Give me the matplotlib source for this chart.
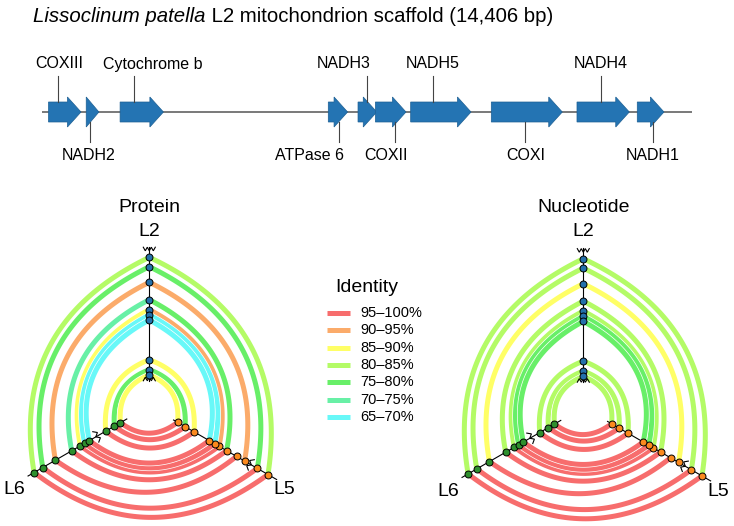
import numpy as np
import matplotlib.pyplot as plt
from matplotlib.patches import Polygon

plt.rcParams['font.family'] = ['Liberation Sans', 'DejaVu Sans']

W, H, DPI = 734, 526, 100

# ---- gene map data (bp on the L2 scaffold) ----
SCAFFOLD_LEN = 14406
GENE_NAMES = ['COXIII', 'NADH2', 'Cytochrome b', 'ATPase 6', 'NADH3',
              'COXII', 'NADH5', 'COXI', 'NADH4', 'NADH1']
GENE_START = [144, 980, 1731, 6345, 7004, 7389, 8171, 9958, 11857, 13193]
GENE_END = [864, 1261, 2691, 6773, 7420, 8067, 9508, 11531, 13016, 13785]
LEADER_BP = [344, 1053, 2039, 6582, 7192, 7817, 8666, 10708, 12400, 13542]
LABEL_BP = [390, 1026, 2451, 5918, 6691, 7624, 8657, 10727, 12385, 13542]
LABEL_SIDE = ['top', 'bottom', 'top', 'bottom', 'top',
              'bottom', 'top', 'bottom', 'top', 'bottom']

# ---- hive plot data ----
IDENTITY = ['95\u2013100%', '90\u201395%', '85\u201390%', '80\u201385%',
            '75\u201380%', '70\u201375%', '65\u201370%']
ID_COLORS = ['#f76d6d', '#fbab6a', '#ffff66', '#b4fb66',
             '#68ef68', '#68f0a6', '#68f8f8']

# node positions along each axis (radius units)
L2_POS = [148.7, 139.3, 123.7, 106.3, 96.3, 91.0, 86.0, 46.3, 36.3, 31.0]
L6_POS = [133.0, 123.0, 108.4, 89.6, 79.5, 74.6, 69.2, 50.3, 40.3, 33.3]
L5_POS = [137.0, 124.7, 110.0, 100.7, 89.2, 80.5, 75.5, 69.1, 51.6, 41.3, 32.6]

# edges as (node on first axis, node on second axis)
L2_L6 = [(0, 0), (1, 1), (2, 2), (3, 3), (4, 4), (5, 5), (6, 6), (7, 7), (8, 8), (9, 9)]
L2_L5 = [(0, 0), (1, 1), (2, 2), (3, 4), (4, 5), (5, 6), (6, 7), (7, 8), (8, 9), (9, 10)]
L6_L5 = [(0, 0), (1, 1), (2, 3), (3, 4), (4, 5), (5, 6), (6, 7), (7, 8), (8, 9), (9, 10)]

# identity class (index into IDENTITY) of each edge
PROT_L2_L6 = [3, 4, 1, 5, 2, 6, 6, 2, 4, 2]
PROT_L2_L5 = [3, 4, 1, 4, 1, 6, 6, 2, 4, 2]
PROT_L6_L5 = [0] * 10
NUC_L2_L6 = [3, 3, 2, 3, 3, 4, 4, 3, 3, 3]
NUC_L2_L5 = [3, 3, 2, 3, 3, 4, 4, 3, 3, 3]
NUC_L6_L5 = [0] * 10

AXIS_ANGLE = {'L2': 90, 'L6': 210, 'L5': 330}
AXIS_RANGE = {'L2': (25, 159), 'L6': (26, 140), 'L5': (28, 147)}
NODE_COLOR = {'L2': '#2470aa', 'L6': '#2e8f2e', 'L5': '#fb8a1e'}

fig = plt.figure(figsize=(W / DPI, H / DPI), dpi=DPI)


def px_axes(x0, y0, x1, y1):
    ax = fig.add_axes([x0 / W, 1 - y1 / H, (x1 - x0) / W, (y1 - y0) / H])
    ax.set_axis_off()
    return ax


# overlay for title and legend
ax0 = px_axes(0, 0, W, H)
ax0.set_xlim(0, W)
ax0.set_ylim(H, 0)

t1 = ax0.text(33, 16, 'Lissoclinum patella', fontsize=14.7, style='italic',
              ha='left', va='center')
ax0.annotate(' L2 mitochondrion scaffold (14,406 bp)', xy=(1, 0), xycoords=t1,
             fontsize=14.7, ha='left', va='bottom')

# ---- gene map ----
axg = px_axes(42, 0, 692, 180)
axg.set_xlim(0, SCAFFOLD_LEN)
axg.set_ylim(180, 0)
base_y = 112
axg.plot([0, SCAFFOLD_LEN], [base_y, base_y], color='#6e6e6e', lw=1.3, zorder=1)
head_len = 300
for name, s, e, lx, tx, side in zip(GENE_NAMES, GENE_START, GENE_END,
                                    LEADER_BP, LABEL_BP, LABEL_SIDE):
    hl = min(head_len, e - s)
    verts = [(s, base_y - 10), (e - hl, base_y - 10), (e - hl, base_y - 15),
             (e, base_y), (e - hl, base_y + 15), (e - hl, base_y + 10),
             (s, base_y + 10)]
    axg.add_patch(Polygon(verts, closed=True, facecolor='#2474b3',
                          edgecolor='#1d5f93', lw=0.5, zorder=2))
    if side == 'top':
        axg.plot([lx, lx], [base_y - 10, 76], color='#444444', lw=0.8, zorder=3)
        axg.text(tx, 64, name, fontsize=11.5, ha='center', va='center')
    else:
        axg.plot([lx, lx], [base_y + 10, 142], color='#444444', lw=0.8, zorder=3)
        axg.text(tx, 155, name, fontsize=11.5, ha='center', va='center')


# ---- hive plots ----
def unit(a):
    a = np.deg2rad(a)
    return np.array([np.cos(a), np.sin(a)])


def edge_curve(r1, a1, r2, a2, k=1.15, n=80):
    p0 = r1 * unit(a1)
    p2 = r2 * unit(a2)
    m = unit(a1) + unit(a2)
    m = m / np.hypot(*m)
    c = k * 0.5 * (r1 + r2) * m
    t = np.linspace(0, 1, n)[:, None]
    return (1 - t) ** 2 * p0 + 2 * t * (1 - t) * c + t ** 2 * p2


def zigzag(ax, r, a, teeth, start=1):
    u = unit(a)
    v = np.array([-u[1], u[0]])
    n = 2 * teeth + 1
    off = np.linspace(-6, 6, n)
    amp = np.array([start * (1 if i % 2 == 0 else -1) for i in range(n)]) * 1.8
    pts = r * u + off[:, None] * v + amp[:, None] * u
    ax.plot(pts[:, 0], pts[:, 1], color='black', lw=0.8, zorder=6,
            solid_joinstyle='miter')


def hive(box, center, title, cls_26, cls_25, cls_65):
    x0, y0, x1, y1 = box
    cx, cy = center
    ax = px_axes(x0, y0, x1, y1)
    ax.set_xlim(x0 - cx, x1 - cx)
    ax.set_ylim(cy - y1, cy - y0)

    groups = [(L6_L5, 'L6', 'L5', L6_POS, L5_POS, cls_65),
              (L2_L6, 'L2', 'L6', L2_POS, L6_POS, cls_26),
              (L2_L5, 'L2', 'L5', L2_POS, L5_POS, cls_25)]
    for edges, a, b, pa, pb, cls in groups:
        for (i, j), c in zip(edges, cls):
            pts = edge_curve(pa[i], AXIS_ANGLE[a], pb[j], AXIS_ANGLE[b])
            ax.plot(pts[:, 0], pts[:, 1], color='white', lw=4.6,
                    solid_capstyle='butt', zorder=2)
            ax.plot(pts[:, 0], pts[:, 1], color=ID_COLORS[c], lw=3.6,
                    solid_capstyle='butt', zorder=2)

    for name, pos in [('L2', L2_POS), ('L6', L6_POS), ('L5', L5_POS)]:
        u = unit(AXIS_ANGLE[name])
        r0, r1 = AXIS_RANGE[name]
        ax.plot([r0 * u[0], r1 * u[0]], [r0 * u[1], r1 * u[1]],
                color='black', lw=0.8, zorder=4)
        p = np.array(pos)[:, None] * u
        ax.plot(p[:, 0], p[:, 1], 'o', ms=5, mfc=NODE_COLOR[name],
                mec='black', mew=0.7, zorder=7, ls='none')

    zigzag(ax, AXIS_RANGE['L2'][1] - 2, 90, 3, start=1)
    zigzag(ax, AXIS_RANGE['L2'][0] + 2, 90, 3, start=-1)
    zigzag(ax, 60, 210, 2, start=1)
    zigzag(ax, 116, 330, 2, start=1)

    ax.text(0, cy - 207, title, fontsize=14, ha='center', va='center')
    ax.text(0, cy - 232, 'L2', fontsize=14, ha='center', va='center')
    ax.text(-135, -84, 'L6', fontsize=14, ha='center', va='center')
    ax.text(135, -84, 'L5', fontsize=14, ha='center', va='center')


hive((0, 190, 300, 526), (149.3, 406.0), 'Protein',
     PROT_L2_L6, PROT_L2_L5, PROT_L6_L5)
hive((434, 190, 734, 526), (583.3, 407.4), 'Nucleotide',
     NUC_L2_L6, NUC_L2_L5, NUC_L6_L5)

# ---- legend ----
ax0.text(367, 287, 'Identity', fontsize=14, ha='center', va='center')
for i, (lab, col) in enumerate(zip(IDENTITY, ID_COLORS)):
    y = 313 + i * 17.3
    ax0.plot([327, 350], [y, y], color=col, lw=3.6, solid_capstyle='butt')
    ax0.text(360, y, lab, fontsize=10.5, ha='left', va='center')

fig.savefig('out.png', dpi=DPI)
